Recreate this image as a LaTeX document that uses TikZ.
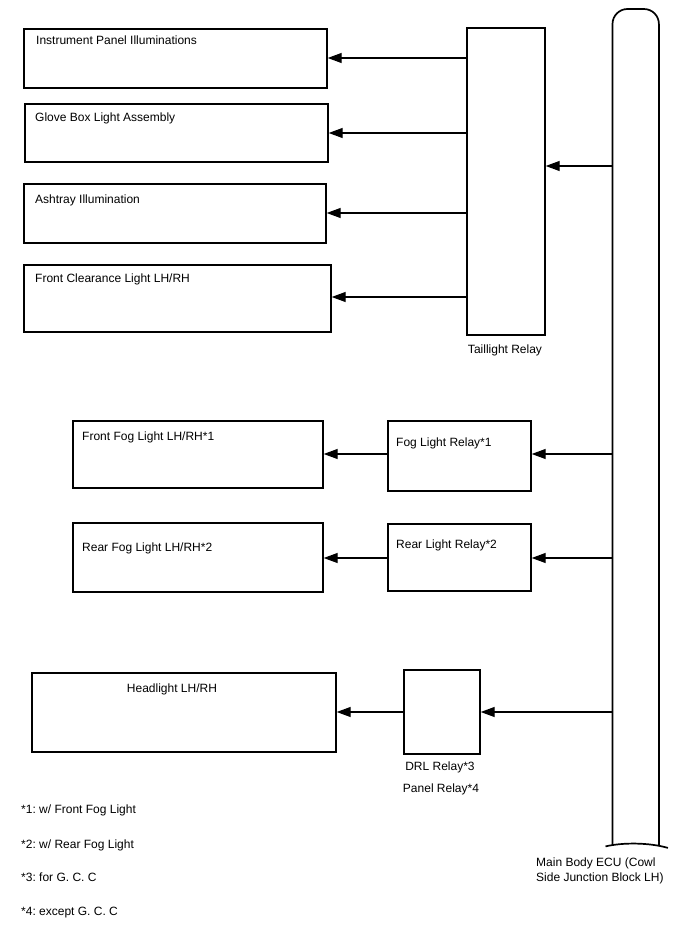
\documentclass[tikz,border=0pt]{standalone}
\usepackage{fontspec}
\setmainfont{Liberation Sans}
\usetikzlibrary{arrows.meta}
\frenchspacing
\begin{document}
\frenchspacing
\begin{tikzpicture}[x=1pt,y=-1pt,
  bx/.style={draw, line width=1.7pt, inner sep=0pt, anchor=north west},
  lbl/.style={anchor=base west, inner sep=0pt, font=\fontsize{12}{14}\selectfont},
  clbl/.style={anchor=base, inner sep=0pt, font=\fontsize{12}{14}\selectfont},
  conn/.style={line width=1.3pt, -{Triangle[length=14pt,width=10pt]}},
  wire/.style={line width=1.3pt}]
\useasboundingbox (0,0) rectangle (688,949);
% load boxes
\node[bx, minimum width=303pt, minimum height=59.5pt] (b1) at (23,28) {};
\node[bx, minimum width=303pt, minimum height=58pt] (b2) at (24,103) {};
\node[bx, minimum width=302pt, minimum height=59pt] (b3) at (23,183.3) {};
\node[bx, minimum width=307pt, minimum height=67pt] (b4) at (23,264.3) {};
\node[bx, minimum width=250pt, minimum height=67pt] (ffog) at (72,420) {};
\node[bx, minimum width=250pt, minimum height=69pt] (rfog) at (72,522) {};
\node[bx, minimum width=304pt, minimum height=79pt] (head) at (31,672) {};
% relays
\node[bx, minimum width=78pt, minimum height=307pt] (tail) at (466,27) {};
\node[bx, minimum width=143pt, minimum height=70pt] (fogr) at (387,420) {};
\node[bx, minimum width=143pt, minimum height=67pt] (rearr) at (387,523) {};
\node[bx, minimum width=76pt, minimum height=84pt] (drl) at (403,669) {};
% ECU
\node[inner sep=0pt, minimum width=46pt, minimum height=836pt, anchor=north west] (ecu) at (612.5,9) {};
\draw[line width=1.7pt, rounded corners=15pt] (ecu.south west) -- (ecu.north west) -- (ecu.north east) -- (ecu.south east);
\draw[line width=1.7pt] ([xshift=-7pt,yshift=-1pt]ecu.south west) .. controls ([xshift=10pt,yshift=3pt]ecu.south west) and ([xshift=-10pt,yshift=3pt]ecu.south east) .. ([xshift=9pt,yshift=-2.5pt]ecu.south east);
% labels
\node[lbl] (t1) at (36,45) {Instrument Panel Illuminations};
\node[lbl] (t2) at (35,122) {Glove Box Light Assembly};
\node[lbl] (t3) at (35,204) {Ashtray Illumination};
\node[lbl] (t4) at (35,283) {Front Clearance Light LH/RH};
\node[clbl] (ttail) at (505,353) {Taillight Relay};
\node[lbl] (tff) at (82,440) {Front Fog Light LH/RH*1};
\node[lbl] (tfr) at (396,446) {Fog Light Relay*1};
\node[lbl] (trf) at (82,551) {Rear Fog Light LH/RH*2};
\node[lbl] (trr) at (396,548) {Rear Light Relay*2};
\node[clbl] (thead) at (172,692) {Headlight LH/RH};
\node[clbl] (tdrl) at (440,770) {DRL Relay*3};
\node[clbl] (tpan) at (441,792.5) {Panel Relay*4};
\node[lbl] (n1) at (21,813) {*1: w/ Front Fog Light};
\node[lbl] (n2) at (21,848) {*2: w/ Rear Fog Light};
\node[lbl] (n3) at (21,881.5) {*3: for G. C. C};
\node[lbl] (n4) at (21,915.5) {*4: except G. C. C};
\node[lbl] (tecu1) at (536,866.5) {Main Body ECU (Cowl};
\node[lbl] (tecu2) at (536,881) {Side Junction Block LH)};
% port coordinates
\coordinate (p1) at (466,58);
\coordinate (p2) at (468,133);
\coordinate (p3) at (466,213);
\coordinate (p4) at (466,297);
\coordinate (pt) at (612.5,166);
\coordinate (pf) at (612.5,454);
\coordinate (pr) at (612.5,558);
\coordinate (ph) at (612.5,712);
% connectors
\draw[conn] (p1) -- (p1 -| b1.east);
\draw[conn] (p2) -- (p2 -| b2.east);
\draw[conn] (p3) -- (p3 -| b3.east);
\draw[conn] (p4) -- (p4 -| b4.east);
\draw[conn] (pt) -- (pt -| tail.east);
\draw[conn] (pf) -- (pf -| fogr.east);
\draw[conn] (pf -| fogr.west) -- (pf -| ffog.east);
\draw[conn] (pr) -- (pr -| rearr.east);
\draw[conn] (pr -| rearr.west) -- (pr -| rfog.east);
\draw[conn] (ph) -- (ph -| drl.east);
\draw[conn] (ph -| drl.west) -- (ph -| head.east);
\end{tikzpicture}
\end{document}
